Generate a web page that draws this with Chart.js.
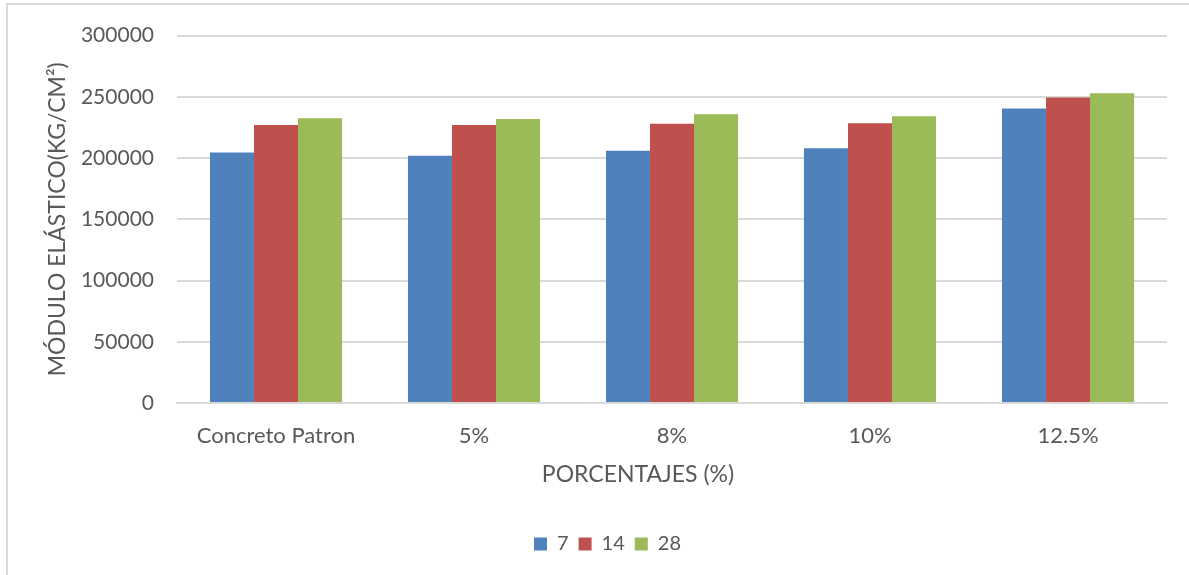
<!DOCTYPE html>
<html>
<head>
<meta charset="utf-8">
<script src="https://cdn.jsdelivr.net/npm/chart.js@4.4.0/dist/chart.umd.min.js"></script>
<style>
  html, body { margin: 0; padding: 0; background: #fff; }
  #wrap { position: absolute; left: 0; top: 0; width: 1189px; height: 575px; }
  #frame { position: absolute; left: 6px; top: 3px; width: 1200px; height: 600px; border-left: 2px solid #d9d9d9; border-top: 2px solid #d9d9d9; box-sizing: border-box; }
  canvas { position: absolute; left: 0; top: 0; }
</style>
</head>
<body>
<div id="wrap">
  <div id="frame"></div>
  <canvas id="c" width="1189" height="575"></canvas>
</div>
<script>
const categories = ["Concreto Patron", "5%", "8%", "10%", "12.5%"];
const seriesNames = ["7", "14", "28"];
const values7  = [204600, 201900, 206000, 208100, 240500];
const values14 = [226900, 226900, 228000, 228500, 249500];
const values28 = [232600, 231800, 235800, 234200, 253000];
const yTicks = [0, 50000, 100000, 150000, 200000, 250000, 300000];
const colors = ["#4F81BD", "#C0504D", "#9BBB59"];
const xTitle = "PORCENTAJES (%)";
const yTitle = "MÓDULO ELÁSTICO(KG/CM²)";

const FONT = "Lato, 'Open Sans', sans-serif";
const TXT = "#595959";

const helpers = {
  id: "helpers",
  afterLayout(chart) {
    chart.legend.left += 20;
    chart.legend.right += 20;
  },
  afterDraw(chart) {
    const ca = chart.chartArea;
    const ctx = chart.ctx;
    ctx.save();
    ctx.fillStyle = TXT;
    ctx.font = "23px " + FONT;
    ctx.textAlign = "center";
    ctx.textBaseline = "middle";
    ctx.fillText(xTitle, (ca.left + ca.right) / 2 - 34, ca.bottom + 72);
    ctx.restore();
  }
};

new Chart(document.getElementById("c"), {
  type: "bar",
  data: {
    labels: categories,
    datasets: [values7, values14, values28].map((v, i) => ({
      label: seriesNames[i],
      data: v,
      backgroundColor: colors[i],
      borderWidth: 0,
      categoryPercentage: 0.667,
      barPercentage: 1.0
    }))
  },
  plugins: [helpers],
  options: {
    responsive: false,
    animation: false,
    devicePixelRatio: 1,
    layout: { padding: { left: 8, top: 21, right: 22, bottom: 11 } },
    plugins: {
      tooltip: { enabled: false },
      legend: {
        position: "bottom",
        labels: {
          boxWidth: 13, boxHeight: 13, padding: 10,
          color: TXT,
          font: { family: FONT, size: 20 }
        }
      }
    },
    scales: {
      x: {
        grid: { display: false, drawTicks: false },
        border: { display: true, color: "#d9d9d9", width: 2 },
        ticks: { color: TXT, font: { family: FONT, size: 22 }, padding: 20, maxRotation: 0 },
        title: { display: false },
        afterFit: (s) => { s.height = 121; }
      },
      y: {
        min: 0, max: 300000,
        afterBuildTicks: (s) => { s.ticks = yTicks.map(v => ({ value: v })); },
        grid: { color: "#d9d9d9", lineWidth: 2, drawTicks: false },
        border: { display: false },
        ticks: { color: TXT, font: { family: FONT, size: 21 }, padding: 23, callback: (v) => String(v) },
        title: { display: true, text: yTitle, color: TXT, font: { family: FONT, size: 23 }, padding: { top: 36, bottom: 0 } },
        afterFit: (s) => { s.width = 169; }
      }
    }
  }
});
</script>
</body>
</html>
